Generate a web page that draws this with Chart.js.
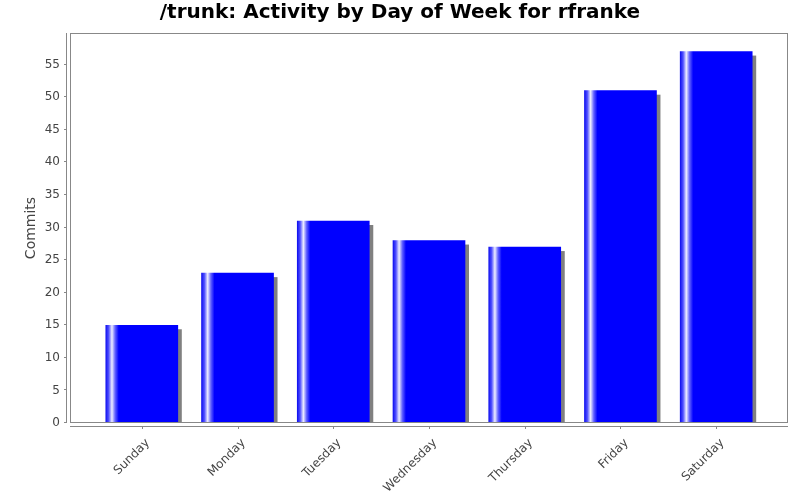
<!DOCTYPE html>
<html>
<head>
<meta charset="utf-8">
<script src="https://cdn.jsdelivr.net/npm/chart.js@4"></script>
<style>
  html, body { margin: 0; padding: 0; background: #fff; }
  #wrap { width: 800px; height: 500px; }
</style>
</head>
<body>
<div id="wrap"><canvas id="chart" width="800" height="500"></canvas></div>
<script>
const days = ['Sunday', 'Monday', 'Tuesday', 'Wednesday', 'Thursday', 'Friday', 'Saturday'];
const commits = [15, 23, 31, 28, 27, 51, 57];
const yTicks = [0, 5, 10, 15, 20, 25, 30, 35, 40, 45, 50, 55];

const BAR_W = 72;
const FONT = "'DejaVu Sans', sans-serif";

const barFill = (context) => {
    const chart = context.chart;
    if (!chart.chartArea || !chart.scales.x) return '#0000ff';
    const x = chart.scales.x.getPixelForValue(context.dataIndex);
    const left = x - BAR_W / 2;
    const g = chart.ctx.createLinearGradient(left, 0, left + BAR_W, 0);
    g.addColorStop(0, '#1010f0');
    g.addColorStop(0.04, '#5050ff');
    g.addColorStop(0.085, '#eeeeff');
    g.addColorStop(0.13, '#6060ff');
    g.addColorStop(0.18, '#0000ff');
    g.addColorStop(1, '#0000ff');
    return g;
};

// gray drop shadow under the bars
const shadowPlugin = {
    id: 'barShadow',
    beforeDatasetsDraw(chart) {
        const { ctx, chartArea } = chart;
        ctx.save();
        ctx.beginPath();
        ctx.rect(chartArea.left, chartArea.top, chartArea.width, chartArea.height);
        ctx.clip();
        ctx.fillStyle = '#808080';
        chart.getDatasetMeta(0).data.forEach(bar => {
            ctx.fillRect(bar.x - BAR_W / 2 + 4, bar.y + 4, BAR_W, chartArea.bottom - bar.y);
        });
        ctx.restore();
    }
};

// plot outline, offset axis lines and tick marks
const framePlugin = {
    id: 'frame',
    afterDraw(chart) {
        const { ctx, chartArea, scales } = chart;
        ctx.save();
        ctx.strokeStyle = '#888888';
        ctx.lineWidth = 1;
        ctx.strokeRect(chartArea.left + 0.5, chartArea.top + 0.5, chartArea.width - 1, chartArea.height - 1);

        ctx.beginPath();
        ctx.moveTo(chartArea.left - 3.5, chartArea.top);
        ctx.lineTo(chartArea.left - 3.5, chartArea.bottom);
        yTicks.forEach(v => {
            const y = Math.round(scales.y.getPixelForValue(v)) - 0.5;
            ctx.moveTo(chartArea.left - 3.5, y);
            ctx.lineTo(chartArea.left - 6, y);
        });
        ctx.moveTo(chartArea.left, chartArea.bottom + 3.5);
        ctx.lineTo(chartArea.right, chartArea.bottom + 3.5);
        days.forEach((d, i) => {
            const x = Math.round(scales.x.getPixelForValue(i)) + 0.5;
            ctx.moveTo(x, chartArea.bottom + 3.5);
            ctx.lineTo(x, chartArea.bottom + 6);
        });
        ctx.stroke();
        ctx.restore();
    }
};

new Chart(document.getElementById('chart'), {
    type: 'bar',
    data: {
        datasets: [{
            data: commits.map((v, i) => ({ x: i, y: v })),
            backgroundColor: barFill,
            borderWidth: 0,
            barThickness: BAR_W
        }]
    },
    options: {
        responsive: false,
        animation: false,
        layout: { padding: { left: 12, right: 12, top: 0, bottom: 0 } },
        plugins: {
            legend: { display: false },
            tooltip: { enabled: false },
            title: {
                display: true,
                text: '/trunk: Activity by Day of Week for rfranke',
                color: '#000',
                font: { family: FONT, size: 20, weight: 'bold' },
                padding: { top: 1, bottom: 8 }
            }
        },
        scales: {
            x: {
                type: 'linear',
                offset: false,
                min: -0.75,
                max: 6.75,
                grid: { display: false, drawTicks: false },
                border: { display: false },
                afterBuildTicks: (scale) => {
                    scale.ticks = days.map((d, i) => ({ value: i }));
                },
                afterFit: (scale) => { scale.height = 77; },
                ticks: {
                    autoSkip: false,
                    maxRotation: 45,
                    minRotation: 45,
                    padding: 13,
                    labelOffset: 6,
                    color: '#444',
                    font: { family: FONT, size: 12 },
                    callback: (v) => days[v]
                }
            },
            y: {
                min: 0,
                max: 59.85,
                grid: { display: false, drawTicks: false },
                border: { display: false },
                afterBuildTicks: (scale) => {
                    scale.ticks = yTicks.map(v => ({ value: v }));
                },
                afterFit: (scale) => { scale.width = 58; },
                ticks: {
                    padding: 10,
                    color: '#444',
                    font: { family: FONT, size: 12 }
                },
                title: {
                    display: true,
                    text: 'Commits',
                    color: '#444',
                    font: { family: FONT, size: 14 },
                    padding: { top: 11, bottom: 0 }
                }
            }
        }
    },
    plugins: [shadowPlugin, framePlugin]
});
</script>
</body>
</html>
